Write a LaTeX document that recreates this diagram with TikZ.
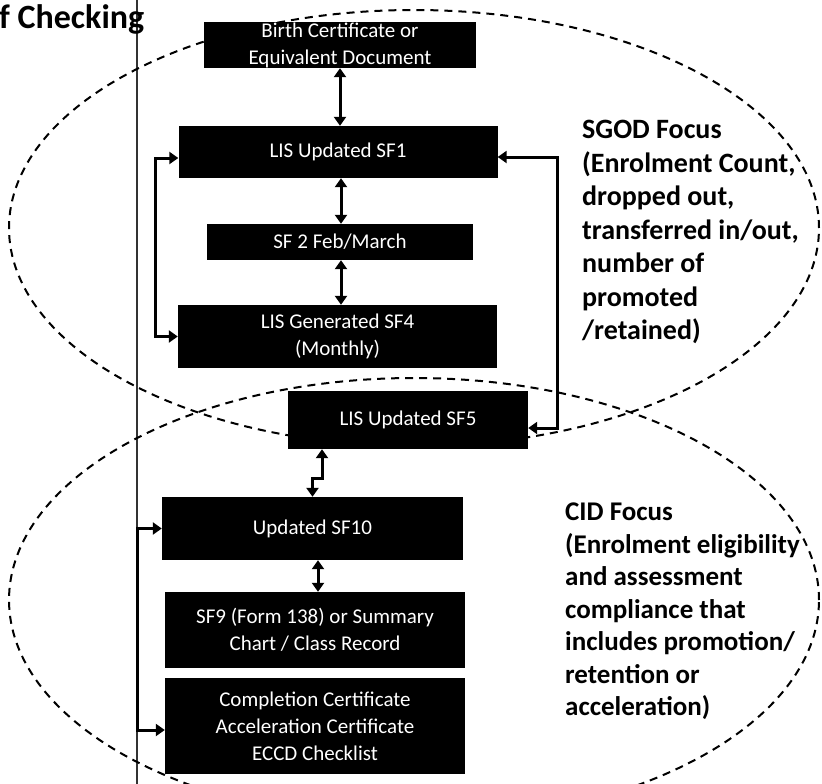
\documentclass[tikz,border=0pt]{standalone}
\usepackage{fontspec}
\setmainfont{Carlito}
\usetikzlibrary{arrows.meta}
\begin{document}
\begin{tikzpicture}[x=1pt,y=-1pt,
  boxn/.style={fill=black,text=white,align=center,font=\fontsize{21}{27}\selectfont,inner sep=0pt},
  conn/.style={line width=3pt,{Triangle[width=12pt,length=9pt]}-{Triangle[width=12pt,length=9pt]}},
  ell/.style={line width=2pt,dash pattern=on 8pt off 6pt},
  lab/.style={font=\bfseries\fontsize{28}{33.5}\selectfont,align=left,anchor=north west,inner sep=0pt}
]
\useasboundingbox (0,0) rectangle (822,784);
% page margin line
\draw[line width=1.2pt,black!80] (137,0) -- (137,784);
% title
\node[font=\bfseries\fontsize{34}{34}\selectfont,anchor=base west,inner sep=0pt] (title) at (-1,29) {f Checking};
% dashed ellipses
\draw[ell] (414,228) ellipse [x radius=405pt,y radius=218pt];
\draw[ell] (414,600) ellipse [x radius=405pt,y radius=222pt];
% boxes
\node[boxn,minimum width=272pt,minimum height=46pt] (b1) at (340,45) {Birth Certificate or\\Equivalent Document};
\node[boxn,minimum width=319pt,minimum height=52pt] (b2) at (338,152) {LIS Updated SF1};
\node[boxn,minimum width=266pt,minimum height=36pt] (b3) at (340,242) {SF 2 Feb/March};
\node[boxn,minimum width=319pt,minimum height=63pt] (b4) at (337.5,336.5) {LIS Generated SF4\\(Monthly)};
\node[boxn,minimum width=240pt,minimum height=58pt] (b5) at (408,420) {LIS Updated SF5};
\node[boxn,minimum width=301pt,minimum height=63pt] (b6) at (312.5,528.5) {Updated SF10};
\node[boxn,minimum width=300pt,minimum height=76pt] (b7) at (315,630) {SF9 (Form 138) or Summary\\Chart / Class Record};
\node[boxn,minimum width=300pt,minimum height=96pt] (b8) at (315,726) {Completion Certificate\\Acceleration Certificate\\ECCD Checklist};
% labels
\node[lab] (sgod) at (582,120) {SGOD Focus\\(Enrolment Count,\\dropped out,\\transferred in/out,\\number of\\promoted\\/retained)};
\node[lab,font=\bfseries\fontsize{27}{32.5}\selectfont] (cid) at (565,503) {CID Focus\\(Enrolment eligibility\\and assessment\\compliance that\\includes promotion/\\retention or\\acceleration)};
% connectors
\draw[conn] (b1.south) -- (b1.south |- b2.north);
\draw[conn] ([xshift=3pt]b2.south) -- ([xshift=3pt]b2.south |- b3.north);
\draw[conn] ([xshift=3pt]b2.south |- b3.south) -- ([xshift=3pt]b2.south |- b4.north);
\draw[conn] ([yshift=-6pt]b2.west) -- ++(-23,0) |- (b4.west);
\draw[conn] ([yshift=-5pt]b2.east) -- ++(60,0) |- ([yshift=-8pt]b5.east);
\draw[conn] ([xshift=-86pt]b5.south) -- ++(0,29) -| (b6.north);
\draw[conn] ([xshift=5.5pt]b6.south) -- ([xshift=5.5pt]b6.south |- b7.north);
\draw[conn] (b6.west) -- ++(-24,0) |- ([yshift=-4pt]b8.west);
\end{tikzpicture}
\end{document}
